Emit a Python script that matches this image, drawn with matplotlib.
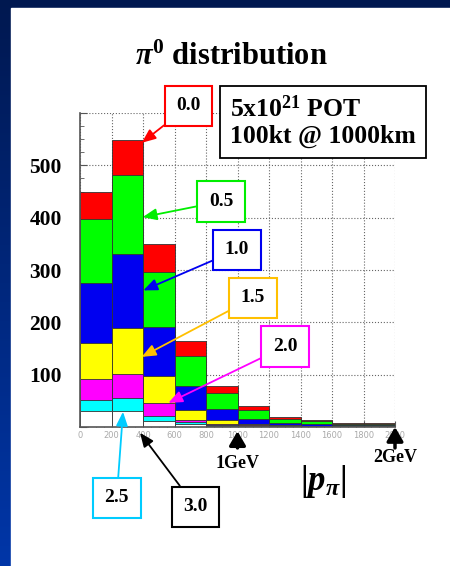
import numpy as np
import matplotlib
matplotlib.use('Agg')
import matplotlib.pyplot as plt

plt.rcParams['mathtext.fontset'] = 'custom'
plt.rcParams['mathtext.rm'] = 'Liberation Serif:bold'
plt.rcParams['mathtext.bf'] = 'Liberation Serif:bold'
plt.rcParams['mathtext.it'] = 'Liberation Serif:bold:italic'

# histogram data (|p_pi| in MeV, bins of 200)
bin_edges = [0, 200, 400, 600, 800, 1000, 1200, 1400, 1600, 1800]
bin_width = 200
cut_labels = ['0.0', '0.5', '1.0', '1.5', '2.0', '2.5', '3.0']
counts_00 = [450, 548, 349, 164, 79, 40, 20, 13, 7.5, 7]
counts_05 = [398, 482, 296, 136, 65, 32, 15.5, 11, 6, 6]
counts_10 = [275, 330, 192, 79, 35, 16, 8.5, 6, 3, 3]
counts_15 = [161, 189, 98, 33, 12.6, 5, 3, 2, 1, 1]
counts_20 = [91, 101, 46, 14, 6, 3, 1.5, 1, 0.5, 0.5]
counts_25 = [52, 55, 21.5, 9, 4, 2, 1, 0.5, 0.3, 0.3]
counts_30 = [30, 30, 11, 6, 2, 1, 0.5, 0.3, 0.2, 0.2]
x_ticks = [0, 200, 400, 600, 800, 1000, 1200, 1400, 1600, 1800, 2000]
y_ticks = [0, 100, 200, 300, 400, 500, 600]

all_counts = [counts_00, counts_05, counts_10, counts_15, counts_20, counts_25, counts_30]
fill_cols = ['#ff0000', '#00ff00', '#0000f0', '#ffff00', '#ff00ff', '#00ffff', '#ffffff']
box_cols = ['#ff0000', '#00ee00', '#0000f0', '#ffc000', '#ff00ff', '#00ccff', '#000000']

W, H = 450, 566
fig = plt.figure(figsize=(W / 100, H / 100), dpi=100)

def fx(px):
    return px / W

def fy(py):
    return 1 - py / H

# blue background with white panel
bg = fig.add_axes([0, 0, 1, 1])
grad = np.linspace(0, 1, 256).reshape(-1, 1)
cmap = matplotlib.colors.LinearSegmentedColormap.from_list('bg', ['#001850', '#0036a8'])
bg.imshow(grad, aspect='auto', cmap=cmap, extent=[0, 1, 0, 1])
bg.add_patch(plt.Rectangle((fx(11), 0), 1, fy(8), color='white'))
bg.set_xlim(0, 1)
bg.set_ylim(0, 1)
bg.axis('off')

ax = fig.add_axes([fx(80), fy(427), fx(395) - fx(80), fy(113) - fy(427)])
for c, col in zip(all_counts, fill_cols):
    ax.bar(bin_edges, c, width=bin_width, align='edge', color=col,
           edgecolor='#333333', linewidth=0.6, zorder=2)

ax.set_xlim(0, 2000)
ax.set_ylim(0, 600)
ax.set_xticks(x_ticks)
ax.set_xticklabels([str(t) for t in x_ticks], fontsize=6, color='#aaaaaa',
                   family='DejaVu Sans')
ax.set_yticks(y_ticks)
ax.set_yticklabels(['' if t in (0, 600) else str(t) for t in y_ticks],
                   fontsize=15.5, fontweight='bold', family='Liberation Serif')
ax.set_xticks(np.arange(0, 2001, 50), minor=True)
ax.set_yticks(np.arange(0, 601, 25), minor=True)
ax.tick_params(axis='both', which='both', direction='in', color='#555555')
ax.tick_params(axis='y', which='major', length=5, pad=13)
ax.tick_params(axis='y', which='minor', length=3)
ax.tick_params(axis='x', which='major', length=4, pad=3)
ax.tick_params(axis='x', which='minor', length=2)
ax.grid(True, which='major', linestyle=':', color='#666666', linewidth=0.8, zorder=0)
ax.set_axisbelow(True)
for s in ['top', 'right']:
    ax.spines[s].set_visible(False)
for s in ['left', 'bottom']:
    ax.spines[s].set_color('#555555')
    ax.spines[s].set_linewidth(1.2)

serif = dict(family='Liberation Serif', fontweight='bold', color='black')

fig.text(fx(231), fy(57), r'$\pi^0$ distribution', ha='center', va='center',
         fontsize=22, **serif)
fig.text(fx(230), fy(122), '5x10$^{21}$ POT\n100kt @ 1000km', ha='left', va='center',
         fontsize=18.5, linespacing=1.15,
         bbox=dict(boxstyle='square,pad=0.4', fc='white', ec='black', lw=1.3), **serif)

# labels with arrows to the histograms
box_pos = [(188.5, 106), (221, 201.5), (237, 250), (253, 298),
           (285, 346.5), (116.7, 498), (195.5, 506.7)]
tips = [(392, 543), (398, 401), (402, 261), (392, 134), (561, 46), (273, 29), (381, -11)]
for lab, bc, (bx, by), tip in zip(cut_labels, box_cols, box_pos, tips):
    ax.annotate(lab, xy=tip, xycoords='data', xytext=(fx(bx), fy(by)),
                textcoords='figure fraction', ha='center', va='center',
                fontsize=14, annotation_clip=False,
                bbox=dict(boxstyle='square,pad=0.6', fc='white', ec=bc, lw=1.5),
                arrowprops=dict(arrowstyle='-|>,head_width=0.25,head_length=0.6',
                                color=bc, lw=1.3, shrinkA=0, shrinkB=0),
                zorder=5, **serif)

# energy markers
for xv, ty, lab in [(1000, 463, '1GeV'), (2000, 457, '2GeV')]:
    ax.annotate('', xy=(xv, -8 if xv == 1000 else 0), xycoords='data',
                xytext=(xv, -40), textcoords='data', annotation_clip=False,
                arrowprops=dict(arrowstyle='-|>,head_width=0.35,head_length=0.6',
                                color='black', lw=2.5, shrinkA=0, shrinkB=0,
                                mutation_scale=14))
    fig.text(fx(80 + xv / 2000 * 315), fy(ty), lab, ha='center', va='center',
             fontsize=13, **serif)

fig.text(fx(323), fy(481), r'$|p_{\pi}|$', ha='center', va='center', fontsize=25,
         **serif)

fig.savefig('out.png', dpi=100)
